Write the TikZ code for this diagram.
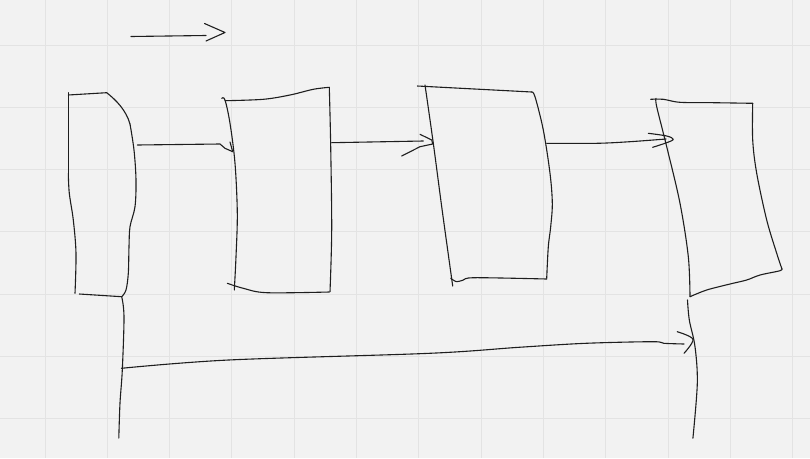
\documentclass[tikz,border=0pt]{standalone}
\definecolor{bg}{HTML}{F2F2F2}
\definecolor{gridc}{HTML}{E3E3E3}
\definecolor{ink}{HTML}{1E1E1E}
\tikzset{
  sketch/.style={draw=ink, line width=1.1pt, line cap=round, line join=round},
  gridline/.style={draw=gridc, line width=1pt},
  sm/.style={smooth, tension=0.55}
}
\begin{document}
\begin{tikzpicture}[x=1pt,y=-1pt]
\fill[bg] (0,0) rectangle (810,458);
\useasboundingbox (0,0) rectangle (810,458);
% grid
\foreach \i in {0,...,12} {\draw[gridline] ({45+62.3*\i},0) -- ({45+62.3*\i},458);}
\foreach \j in {0,...,6} {\draw[gridline] (0,{45+62.3*\j}) -- (810,{45+62.3*\j});}

% legend arrow
\coordinate (ls) at (131,36.5);
\coordinate (le) at (206,35.5);
\draw[sketch] (ls) -- (le);
\draw[sketch] (204.5,23.5) -- (225,32.5) -- (206,41);

% box 1
\draw[sketch] (68.3,92.7) -- (68.3,173.3);
\draw[sketch] plot[sm] coordinates {(68.3,173.3) (69.3,193.3) (73.3,220) (76,253.3) (75,293.3)};
\draw[sketch] (68.3,95) -- (106.7,92.7);
\draw[sketch] (106.7,92.7) .. controls (116,100) and (126,110) .. (130,124);
\draw[sketch] plot[sm] coordinates {(130,124) (134,150) (136,180) (135,206.7) (130,226.7) (129,246.7) (128.3,273.3) (126,290) (121.7,296.7)};
\draw[sketch] (79.3,294) -- (121.7,296.7);
\coordinate (b1out) at (137.3,145);
\coordinate (b1low) at (121.7,296.7);

% box 2
\draw[sketch] plot[sm] coordinates {(221.7,98.3) (225,100) (230,123.3) (235,163.3) (237.3,213.3) (236,256.7) (234.3,290)};
\draw[sketch] plot[sm] coordinates {(225,100.7) (263.3,99.3) (290,95) (313.3,89.3) (329.3,87.3)};
\draw[sketch] plot[sm] coordinates {(329.3,87.3) (330.7,146.7) (331.7,230) (330,291.7)};
\draw[sketch] plot[sm] coordinates {(227.3,283.3) (243.3,288.3) (266.7,292.7) (329.3,292)};
\coordinate (b2in) at (232.7,151.7);
\coordinate (b2out) at (331.7,142.7);

% box 3
\draw[sketch] (417.3,86) -- (531.7,92);
\draw[sketch] plot[sm] coordinates {(425,85) (433.3,143.3) (441.7,206.7) (450,266.7) (452.7,286)};
\draw[sketch] plot[sm] coordinates {(531.7,92) (535,96.7) (543.3,130) (550,173.3) (552.3,203.3) (550.7,226.7) (548.3,246.7) (546.7,278.3)};
\draw[sketch] plot[sm] coordinates {(450.7,278.3) (456.7,281.7) (463.3,280) (475,277.7) (546.7,279)};
\coordinate (b3in) at (423.3,141);
\coordinate (b3out) at (546.7,143.3);

% box 4
\draw[sketch] plot[sm] coordinates {(650.7,99.3) (663.3,99.3) (680,102.3) (713.3,102.7) (752.7,103.3)};
\draw[sketch] plot[sm] coordinates {(656,98.3) (656.7,106.7) (666.7,146.7) (680,203.3) (688.3,256.7) (690,296.7)};
\draw[sketch] plot[sm] coordinates {(752.7,103.3) (752.7,140) (756.7,173.3) (766.7,220) (776.7,253.3) (781.7,268.3)};
\draw[sketch] plot[sm] coordinates {(781.7,268.3) (780,270.7) (760,275) (746.7,280) (730,284) (706.7,290) (690,296.7)};
\coordinate (b4in) at (666,139);

% arrow 1 -> 2
\draw[sketch] (b1out) -- (220,144) -- (225,148.3) -- (b2in);
\draw[sketch] (230,142) -- (b2in);

% arrow 2 -> 3
\draw[sketch] (b2out) -- (b3in);
\draw[sketch] (420,134.3) -- (431.7,140) -- (432.7,144) -- (420,146.7) -- (401.7,156);

% arrow 3 -> 4
\draw[sketch] plot[sm] coordinates {(b3out) (596.7,143.3) (630,141.7) (b4in)};
\draw[sketch] plot[sm] coordinates {(648.3,133.3) (666.7,136) (673.3,139.3) (666.7,142.7) (652.7,147.3)};

% lifelines
\draw[sketch] plot[sm] coordinates {(b1low) (124,316.7) (122.3,370) (120,403) (118.8,438)};
\draw[sketch] plot[sm] coordinates {(687.5,300) (689.3,320) (695,346.7) (697.3,383.3) (692.9,438.3)};
\coordinate (ls2) at (121.4,368.3);
\coordinate (le2) at (684,344);
\draw[sketch] plot[sm] coordinates {(ls2) (228.6,360) (429.5,353.3) (518.8,347.3) (585.7,343.3) (652.7,341.7) (663.8,343.3) (le2)};
\draw[sketch] plot[sm] coordinates {(677.2,331.7) (692.9,339.3) (684,353.3)};
\end{tikzpicture}
\end{document}
